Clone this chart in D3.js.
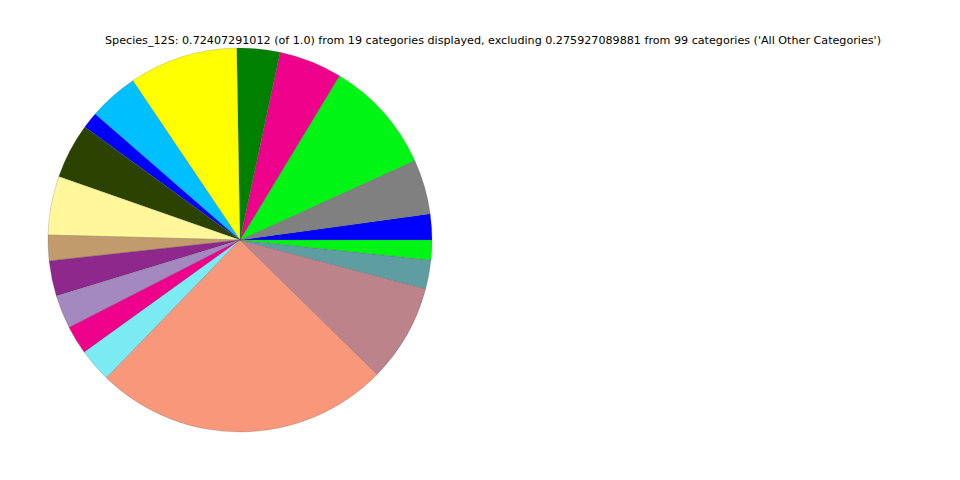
<!DOCTYPE html>
<html>
<head>
<meta charset="utf-8">
<script src="https://cdn.jsdelivr.net/npm/d3@7"></script>
<style>
  html, body { margin: 0; padding: 0; background: #fff; }
  svg { display: block; }
</style>
</head>
<body>
<svg id="chart" width="960" height="480"></svg>
<script>
const titleText = "Species_12S: 0.72407291012 (of 1.0) from 19 categories displayed, excluding 0.275927089881 from 99 categories ('All Other Categories')";
const categories = ["c1","c2","c3","c4","c5","c6","c7","c8","c9","c10","c11","c12","c13","c14","c15","c16","c17","c18","c19"];
const values = [0.01573, 0.03339, 0.06915, 0.03852, 0.02621, 0.06629, 0.03027, 0.01004, 0.03367, 0.03576,
                0.01563, 0.02144, 0.02041, 0.01750, 0.02041, 0.18031, 0.05966, 0.01764, 0.01205];
const colors = ["#0000ff", "#808080", "#00f514", "#ef028b", "#008000", "#ffff00", "#00bfff", "#0000ff", "#2c4200", "#fff799",
                "#c19b6b", "#8e288c", "#a389c0", "#ef028b", "#7beaf2", "#f8977a", "#bc838b", "#5f9ea0", "#00f514"];

const svg = d3.select("#chart");
const cx = 240, cy = 240, r = 192;

const data = categories.map((c, i) => ({ cat: c, value: values[i], color: colors[i] }));

// matplotlib-style: start at 3 o'clock, counter-clockwise
const pie = d3.pie().value(d => d.value).sort(null)
  .startAngle(Math.PI / 2).endAngle(Math.PI / 2 - 2 * Math.PI);
const arc = d3.arc().innerRadius(0).outerRadius(r);

svg.append("g").attr("transform", `translate(${cx},${cy})`)
  .selectAll("path").data(pie(data)).join("path")
  .attr("d", arc)
  .attr("fill", d => d.data.color)
  .attr("stroke", "#444")
  .attr("stroke-opacity", 0.5)
  .attr("stroke-width", 0.4);

svg.append("text")
  .attr("x", 493).attr("y", 44)
  .attr("text-anchor", "middle")
  .attr("font-family", "DejaVu Sans")
  .attr("font-size", 11.15)
  .attr("fill", "#000")
  .text(titleText);
</script>
</body>
</html>
